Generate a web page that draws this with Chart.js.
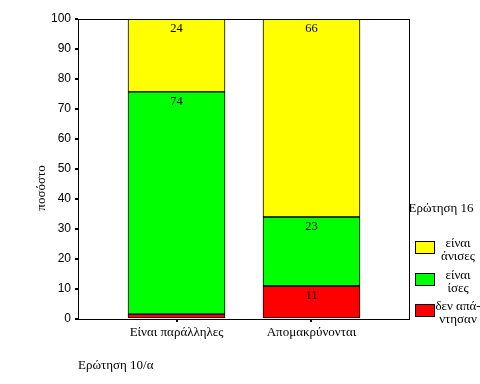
<!DOCTYPE html>
<html>
<head>
<meta charset="utf-8">
<script src="https://cdn.jsdelivr.net/npm/chart.js@4"></script>
<style>
  body { margin: 0; background: #fff; }
  #wrap { width: 480px; height: 384px; }
</style>
</head>
<body>
<div id="wrap"><canvas id="chart"></canvas></div>
<script>
// data
const categories = ['Είναι παράλληλες', 'Απομακρύνονται'];
const noAnswer = [1.6, 11];
const equal = [74.1, 23];
const unequal = [24.3, 66];
const yTicks = [0, 10, 20, 30, 40, 50, 60, 70, 80, 90, 100];

const serif = '"Liberation Serif", "DejaVu Serif", serif';
const sans = '"Liberation Sans", Arial, sans-serif';

function points(values) {
  return values.map((v, i) => ({ x: i, y: v }));
}

// values written near the top of each segment, plus box, titles and legend
const extras = {
  id: 'extras',
  afterDatasetsDraw(chart) {
    const ctx = chart.ctx;
    ctx.save();
    ctx.fillStyle = '#000';
    ctx.font = '12.5px ' + serif;
    ctx.textAlign = 'center';
    ctx.textBaseline = 'middle';
    chart.data.datasets.forEach((ds, di) => {
      chart.getDatasetMeta(di).data.forEach((bar, i) => {
        const v = ds.data[i].y;
        if (v < 5) return;
        ctx.fillText(Math.round(v), bar.x, bar.y + 10);
      });
    });
    ctx.restore();
  },
  afterDraw(chart) {
    const ctx = chart.ctx;
    const a = chart.chartArea;
    ctx.save();
    ctx.strokeStyle = '#000';
    ctx.lineWidth = 1;
    ctx.strokeRect(a.left + 0.5, a.top + 0.5, a.right - a.left - 1, a.bottom - a.top);

    ctx.fillStyle = '#000';
    ctx.font = '13px ' + serif;
    ctx.textBaseline = 'middle';

    // axis titles
    ctx.textAlign = 'left';
    ctx.fillText('Ερώτηση 10/α', 78, 366);
    ctx.save();
    ctx.translate(42, 188);
    ctx.rotate(-Math.PI / 2);
    ctx.textAlign = 'center';
    ctx.fillText('ποσόστο', 0, 0);
    ctx.restore();

    // legend
    ctx.textAlign = 'center';
    ctx.fillText('Ερώτηση 16', 441, 209);
    const items = [
      { color: '#ffff00', lines: ['είναι', 'άνισες'], y: 241 },
      { color: '#00ff00', lines: ['είναι', 'ίσες'], y: 273 },
      { color: '#ff0000', lines: ['δεν απά-', 'ντησαν'], y: 304 }
    ];
    items.forEach(it => {
      ctx.fillStyle = it.color;
      ctx.fillRect(415, it.y, 20, 12);
      ctx.strokeRect(415.5, it.y + 0.5, 19, 12);
      ctx.fillStyle = '#000';
      ctx.fillText(it.lines[0], 458, it.y + 3);
      ctx.fillText(it.lines[1], 458, it.y + 16);
    });
    ctx.restore();
  }
};

const ctx = document.getElementById('chart').getContext('2d');

const chartGraph = new Chart(ctx, {
  type: 'bar',
  data: {
    datasets: [
      { label: 'δεν απάντησαν', data: points(noAnswer), backgroundColor: '#ff0000' },
      { label: 'είναι ίσες', data: points(equal), backgroundColor: '#00ff00' },
      { label: 'είναι άνισες', data: points(unequal), backgroundColor: '#ffff00' }
    ].map(ds => Object.assign(ds, {
      borderColor: '#000',
      borderWidth: 1,
      borderSkipped: false,
      barThickness: 97
    }))
  },
  options: {
    responsive: true,
    maintainAspectRatio: false,
    animation: false,
    layout: { padding: { top: 19, right: 70, left: 0, bottom: 0 } },
    plugins: { legend: { display: false }, tooltip: { enabled: false } },
    scales: {
      x: {
        type: 'linear',
        stacked: true,
        offset: false,
        min: -0.73,
        max: 1.73,
        afterFit(scale) { scale.height = 65; },
        afterBuildTicks(scale) { scale.ticks = categories.map((c, i) => ({ value: i })); },
        border: { display: false },
        grid: { drawOnChartArea: false, offset: false, tickLength: 3, lineWidth: 2, color: '#000' },
        ticks: {
          color: '#000',
          font: { family: serif, size: 13 },
          padding: 3,
          maxRotation: 0,
          callback: v => categories[v]
        }
      },
      y: {
        stacked: true,
        min: 0,
        max: 100,
        afterFit(scale) { scale.width = 78; },
        afterBuildTicks(scale) { scale.ticks = yTicks.map(v => ({ value: v })); },
        border: { display: false },
        grid: { drawOnChartArea: false, tickLength: 3, lineWidth: 2, color: '#000' },
        ticks: {
          color: '#000',
          font: { family: sans, size: 12 },
          padding: 4
        }
      }
    }
  },
  plugins: [extras]
});
</script>
</body>
</html>
